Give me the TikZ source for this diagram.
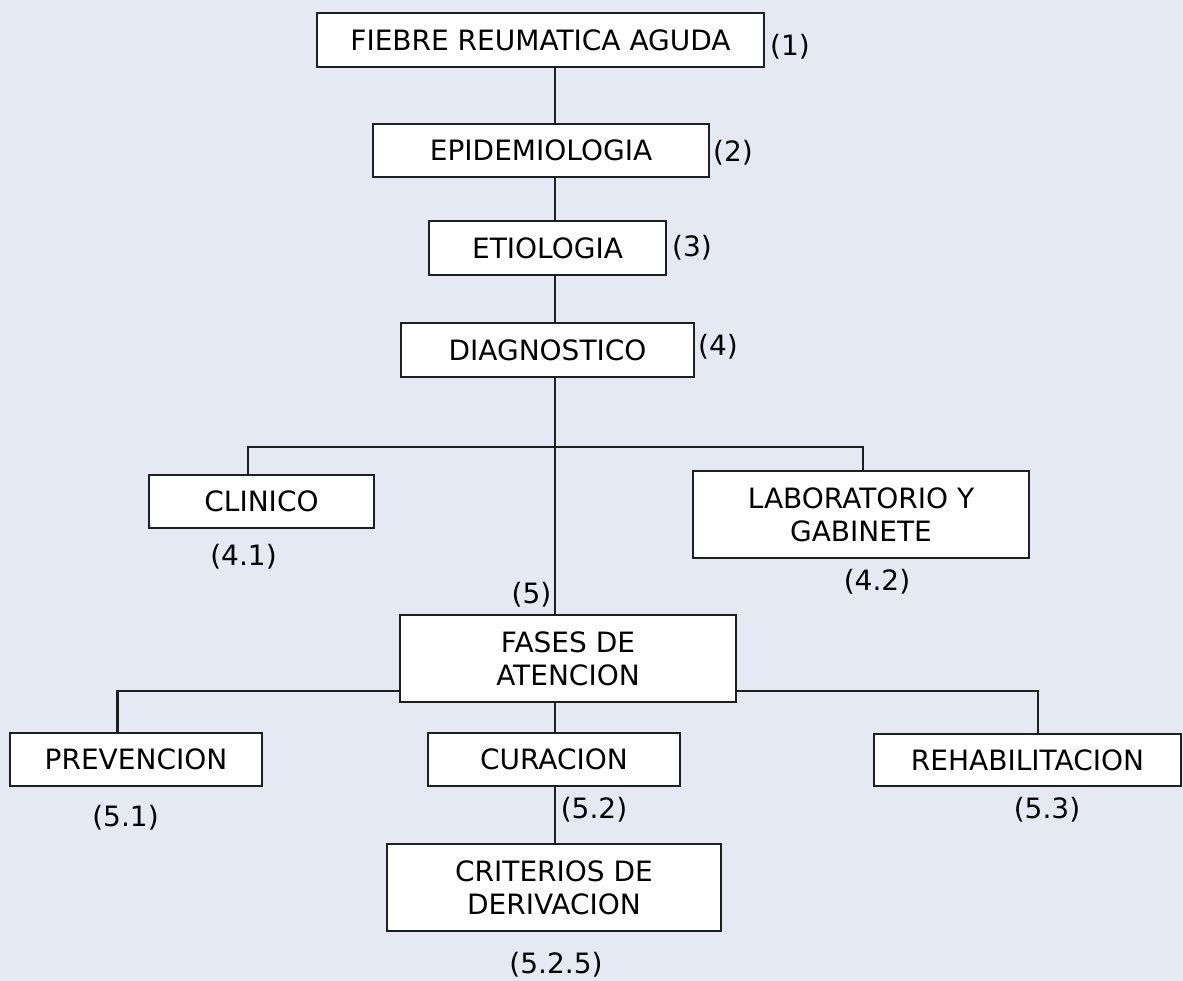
\documentclass[tikz,border=0pt]{standalone}
\usepackage{fontspec}
\setmainfont{DejaVu Sans}
\begin{document}
\begin{tikzpicture}[x=1pt,y=-1pt,
  every node/.style={font=\fontsize{28}{33}\selectfont},
  box/.style={draw=black!88, line width=2.2pt, fill=white, inner sep=0pt, align=center},
  tag/.style={inner sep=0pt},
  link/.style={draw=black!88, line width=2.2pt}]
  % page and background
  \useasboundingbox (0,0) rectangle (1183,980);
  \fill[fill={rgb,255:red,228;green,233;blue,244}] (-5,-5) rectangle (1188,985);

  % spine of the tree and the branch points
  \coordinate (spine) at (555,0);
  \coordinate (b41) at (248,447);
  \coordinate (b42) at (863,447);
  \coordinate (b51) at (117.5,691);
  \coordinate (b53) at (1038,691);

  % boxes
  \node[box, minimum width=447, minimum height=54] (fra) at (540.5,40) {FIEBRE REUMATICA AGUDA};
  \node[box, minimum width=336, minimum height=53] (epi) at (541,150.5) {EPIDEMIOLOGIA};
  \node[box, minimum width=237, minimum height=54] (eti) at (547.5,248) {ETIOLOGIA};
  \node[box, minimum width=293, minimum height=54] (dia) at (547.5,350) {DIAGNOSTICO};
  \node[box, minimum width=225, minimum height=53] (cli) at (261.5,501.5) {CLINICO};
  \node[box, minimum width=336, minimum height=87] (lab) at (861,514.5) {LABORATORIO Y\\GABINETE};
  \node[box, minimum width=336, minimum height=87] (fas) at (568,658.5) {FASES DE\\ATENCION};
  \node[box, minimum width=252, minimum height=53] (pre) at (136,759.5) {PREVENCION};
  \node[box, minimum width=252, minimum height=53] (cur) at (554,759.5) {CURACION};
  \node[box, minimum width=307, minimum height=52] (reh) at (1027.5,760) {REHABILITACION};
  \node[box, minimum width=334, minimum height=87] (cri) at (554,887.5) {CRITERIOS DE\\DERIVACION};

  % connectors
  \draw[link] (fra.south -| spine) -- (epi.north -| spine);
  \draw[link] (epi.south -| spine) -- (eti.north -| spine);
  \draw[link] (eti.south -| spine) -- (dia.north -| spine);
  \draw[link] (dia.south -| spine) -- (fas.north -| spine);
  \draw[link] (cli.north -| b41) -- (b41) -- (b42) -- (lab.north -| b42);
  \draw[link] (fas.west |- b51) -- (b51) -- (pre.north -| b51);
  \draw[link] (fas.east |- b53) -- (b53) -- (reh.north -| b53);
  \draw[link] (fas.south -| spine) -- (cur.north -| spine);
  \draw[link] (cur.south -| spine) -- (cri.north -| spine);

  % section numbers
  \node[tag] (n1) at (790,47) {(1)};
  \node[tag] (n2) at (733,153) {(2)};
  \node[tag] (n3) at (692,248) {(3)};
  \node[tag] (n4) at (718,347) {(4)};
  \node[tag] (n41) at (243.5,557) {(4.1)};
  \node[tag] (n42) at (877,582) {(4.2)};
  \node[tag] (n5) at (531.5,595) {(5)};
  \node[tag] (n51) at (125.5,818) {(5.1)};
  \node[tag] (n52) at (594,810) {(5.2)};
  \node[tag] (n53) at (1047,810) {(5.3)};
  \node[tag] (n525) at (556,965) {(5.2.5)};
\end{tikzpicture}
\end{document}
